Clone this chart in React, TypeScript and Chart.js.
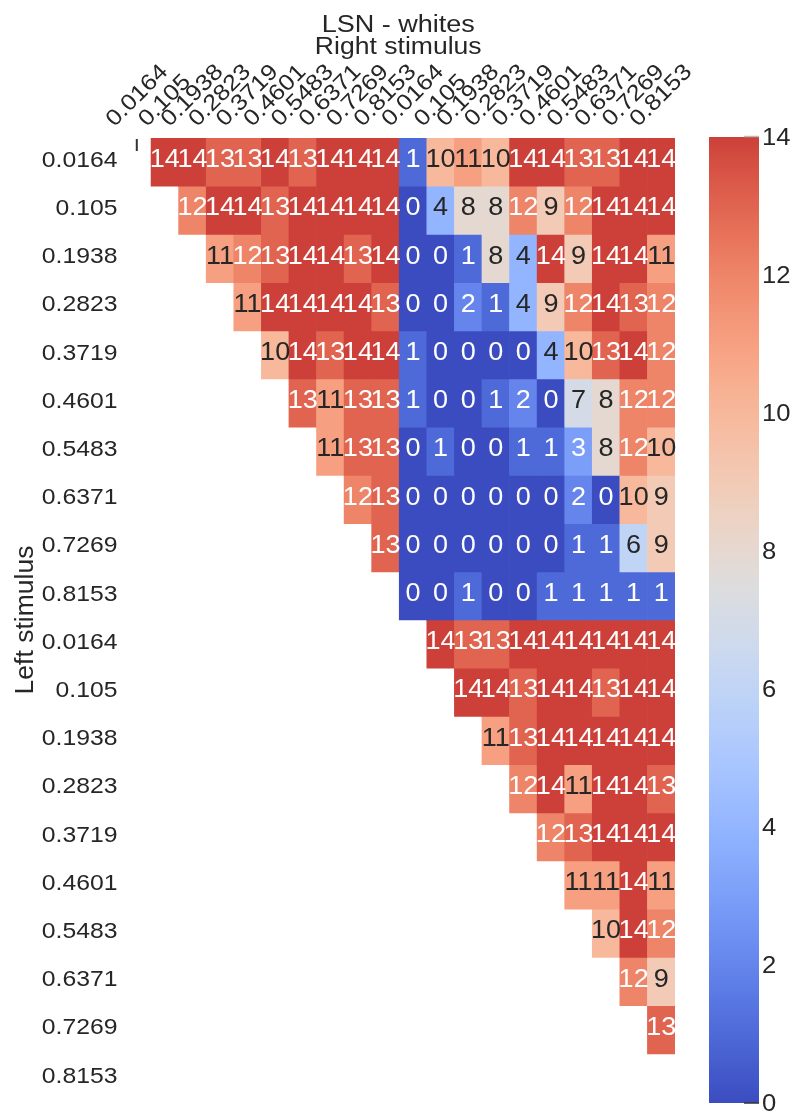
import React, { useEffect, useRef } from "react";
import { Chart, registerables } from "chart.js";

Chart.register(...registerables);

// ---------- data ----------
const stimulusLevels = ["0.0164", "0.105", "0.1938", "0.2823", "0.3719", "0.4601", "0.5483", "0.6371", "0.7269", "0.8153"];
const xTickLabels = [...stimulusLevels, ...stimulusLevels];
const yTickLabels = [...stimulusLevels, ...stimulusLevels];
const colorbarTicks = [0, 2, 4, 6, 8, 10, 12, 14];
const titleText = "LSN - whites";
const xAxisTitle = "Right stimulus";
const yAxisTitle = "Left stimulus";
const colorMin = 0;
const colorMax = 14;
const colorCenter = 7.5;

const N = null;
const row0 = [N, 14, 14, 13, 13, 14, 13, 14, 14, 14, 1, 10, 11, 10, 14, 14, 13, 13, 14, 14];
const row1 = [N, N, 12, 14, 14, 13, 14, 14, 14, 14, 0, 4, 8, 8, 12, 9, 12, 14, 14, 14];
const row2 = [N, N, N, 11, 12, 13, 14, 14, 13, 14, 0, 0, 1, 8, 4, 14, 9, 14, 14, 11];
const row3 = [N, N, N, N, 11, 14, 14, 14, 14, 13, 0, 0, 2, 1, 4, 9, 12, 14, 13, 12];
const row4 = [N, N, N, N, N, 10, 14, 13, 14, 14, 1, 0, 0, 0, 0, 4, 10, 13, 14, 12];
const row5 = [N, N, N, N, N, N, 13, 11, 13, 13, 1, 0, 0, 1, 2, 0, 7, 8, 12, 12];
const row6 = [N, N, N, N, N, N, N, 11, 13, 13, 0, 1, 0, 0, 1, 1, 3, 8, 12, 10];
const row7 = [N, N, N, N, N, N, N, N, 12, 13, 0, 0, 0, 0, 0, 0, 2, 0, 10, 9];
const row8 = [N, N, N, N, N, N, N, N, N, 13, 0, 0, 0, 0, 0, 0, 1, 1, 6, 9];
const row9 = [N, N, N, N, N, N, N, N, N, N, 0, 0, 1, 0, 0, 1, 1, 1, 1, 1];
const row10 = [N, N, N, N, N, N, N, N, N, N, N, 14, 13, 13, 14, 14, 14, 14, 14, 14];
const row11 = [N, N, N, N, N, N, N, N, N, N, N, N, 14, 14, 13, 14, 14, 13, 14, 14];
const row12 = [N, N, N, N, N, N, N, N, N, N, N, N, N, 11, 13, 14, 14, 14, 14, 14];
const row13 = [N, N, N, N, N, N, N, N, N, N, N, N, N, N, 12, 14, 11, 14, 14, 13];
const row14 = [N, N, N, N, N, N, N, N, N, N, N, N, N, N, N, 12, 13, 14, 14, 14];
const row15 = [N, N, N, N, N, N, N, N, N, N, N, N, N, N, N, N, 11, 11, 14, 11];
const row16 = [N, N, N, N, N, N, N, N, N, N, N, N, N, N, N, N, N, 10, 14, 12];
const row17 = [N, N, N, N, N, N, N, N, N, N, N, N, N, N, N, N, N, N, 12, 9];
const row18 = [N, N, N, N, N, N, N, N, N, N, N, N, N, N, N, N, N, N, N, 13];
const row19 = [N, N, N, N, N, N, N, N, N, N, N, N, N, N, N, N, N, N, N, N];
const rows: (number | null)[][] = [
  row0, row1, row2, row3, row4, row5, row6, row7, row8, row9,
  row10, row11, row12, row13, row14, row15, row16, row17, row18, row19,
];

// ---------- colormap (matplotlib coolwarm) ----------
const COOLWARM: number[][] = [
  [59, 76, 192], [68, 90, 204], [77, 104, 215], [87, 117, 225], [98, 130, 234], [108, 142, 241],
  [119, 154, 247], [130, 165, 251], [141, 176, 254], [152, 185, 255], [163, 194, 255], [174, 201, 253],
  [184, 208, 249], [194, 213, 244], [204, 217, 238], [213, 219, 230], [221, 221, 221], [229, 216, 209],
  [236, 211, 197], [241, 204, 184], [245, 196, 172], [247, 187, 159], [247, 177, 147], [247, 166, 134],
  [244, 154, 123], [241, 141, 111], [236, 127, 99], [229, 112, 88], [222, 96, 77], [213, 80, 66],
  [203, 62, 56], [192, 40, 47], [180, 4, 38],
];
function coolwarmRGB(t: number): number[] {
  const tt = Math.max(0, Math.min(1, t)) * (COOLWARM.length - 1);
  const i = Math.min(COOLWARM.length - 2, Math.floor(tt));
  const f = tt - i;
  const a = COOLWARM[i], b = COOLWARM[i + 1];
  return [0, 1, 2].map((k) => a[k] + (b[k] - a[k]) * f);
}
const vRange = Math.max(colorMax - colorCenter, colorCenter - colorMin);
function normValue(v: number) {
  return (v - (colorCenter - vRange)) / (2 * vRange);
}
function rgbStr(c: number[]) {
  return `rgb(${Math.round(c[0])},${Math.round(c[1])},${Math.round(c[2])})`;
}
function valueColor(v: number) {
  return rgbStr(coolwarmRGB(normValue(v)));
}
function textColorFor(v: number) {
  const c = coolwarmRGB(normValue(v)).map((x) => {
    const s = x / 255;
    return s <= 0.03928 ? s / 12.92 : Math.pow((s + 0.055) / 1.055, 2.4);
  });
  const lum = 0.2126 * c[0] + 0.7152 * c[1] + 0.0722 * c[2];
  return lum > 0.408 ? "#262626" : "#ffffff";
}

// ---------- text helper ----------
const FONT = '"Liberation Sans", Arial, Helvetica, sans-serif';
const DARK = "#262626";
function drawText(
  ctx: CanvasRenderingContext2D,
  text: string,
  x: number,
  y: number,
  size: number,
  opts: { sx?: number; rot?: number; align?: CanvasTextAlign; baseline?: CanvasTextBaseline; color?: string } = {}
) {
  ctx.save();
  ctx.translate(x, y);
  if (opts.rot) ctx.rotate(opts.rot);
  ctx.scale(opts.sx ?? 1.1, 1);
  ctx.font = `${size}px ${FONT}`;
  ctx.fillStyle = opts.color ?? DARK;
  ctx.textAlign = opts.align ?? "center";
  ctx.textBaseline = opts.baseline ?? "middle";
  ctx.fillText(text, 0, 0);
  ctx.restore();
}

const heatmapLabels = {
  id: "heatmapLabels",
  afterDraw(chart: any) {
    const ctx: CanvasRenderingContext2D = chart.ctx;
    const xs = chart.scales.x;
    const ys = chart.scales.y;
    const area = chart.chartArea;
    // cell annotations
    rows.forEach((row, i) => {
      row.forEach((v, j) => {
        if (v === null) return;
        drawText(ctx, String(v), xs.getPixelForValue(j), ys.getPixelForValue(i + 0.5) - 2, 26, {
          sx: 1.04,
          color: textColorFor(v),
        });
      });
    });
    // small mark at the first (masked) cell
    ctx.save();
    ctx.strokeStyle = "#333333";
    ctx.lineWidth = 2;
    ctx.beginPath();
    const mx = xs.getPixelForValue(0) - 0.5;
    ctx.moveTo(mx, ys.getPixelForValue(0) + 1);
    ctx.lineTo(mx, ys.getPixelForValue(0.27));
    ctx.stroke();
    ctx.restore();
    // y tick labels
    yTickLabels.forEach((lab, i) => {
      drawText(ctx, lab, area.left - 6, ys.getPixelForValue(i + 0.5) - 1.5, 22.5, { sx: 1.1, align: "right" });
    });
    // x tick labels, rotated 45deg, centred on column, bbox bottom fixed
    ctx.save();
    ctx.font = `22.5px ${FONT}`;
    const widths = xTickLabels.map((l) => ctx.measureText(l).width * 1.12);
    ctx.restore();
    xTickLabels.forEach((lab, j) => {
      const w = widths[j];
      const half = ((w + 22.5) * Math.SQRT1_2) / 2;
      const cy = area.top - 7 - half;
      drawText(ctx, lab, xs.getPixelForValue(j), cy, 22.5, { sx: 1.12, rot: -Math.PI / 4 });
    });
    // titles
    const cx = (area.left + area.right) / 2;
    drawText(ctx, titleText, cx - 1, 31.5, 23.5, { sx: 1.15, baseline: "alphabetic" });
    drawText(ctx, xAxisTitle, cx - 1, 53.5, 23.5, { sx: 1.13, baseline: "alphabetic" });
    // y axis title
    drawText(ctx, yAxisTitle, 33, (area.top + area.bottom) / 2, 26.5, {
      sx: 1.0,
      rot: -Math.PI / 2,
      baseline: "alphabetic",
    });
  },
};

const colorbarLabels = {
  id: "colorbarLabels",
  afterDraw(chart: any) {
    const ctx: CanvasRenderingContext2D = chart.ctx;
    const ys = chart.scales.y;
    const area = chart.chartArea;
    colorbarTicks.forEach((t) => {
      drawText(ctx, String(t), area.right + 3, ys.getPixelForValue(t) + 1.5, 23.5, { sx: 1.09, align: "left" });
    });
    ctx.save();
    ctx.lineWidth = 1.5;
    ctx.strokeStyle = "#bbbbbb";
    ctx.beginPath();
    ctx.moveTo(area.right - 15, ys.getPixelForValue(colorMax) - 0.5);
    ctx.lineTo(area.right, ys.getPixelForValue(colorMax) - 0.5);
    ctx.stroke();
    ctx.strokeStyle = "#333333";
    ctx.beginPath();
    ctx.moveTo(area.right - 15, ys.getPixelForValue(colorMin));
    ctx.lineTo(area.right, ys.getPixelForValue(colorMin));
    ctx.stroke();
    ctx.restore();
  },
};

export default function App() {
  const mainRef = useRef<HTMLCanvasElement>(null);
  const cbRef = useRef<HTMLCanvasElement>(null);

  useEffect(() => {
    document.body.style.margin = "0";
    const datasets = rows.map((row, i) => ({
      label: yTickLabels[i],
      data: row.map((v) => (v === null ? null : [i, i + 1])) as any,
      backgroundColor: row.map((v) => (v === null ? "rgba(0,0,0,0)" : valueColor(v))),
      borderWidth: 0,
      grouped: false,
      barPercentage: 1,
      categoryPercentage: 1,
    }));
    const main = new Chart(mainRef.current!, {
      type: "bar",
      data: { labels: xTickLabels, datasets },
      options: {
        animation: false,
        responsive: false,
        maintainAspectRatio: false,
        layout: { padding: { left: 123.5, right: 119, top: 138, bottom: 13 } },
        plugins: { legend: { display: false }, tooltip: { enabled: false }, title: { display: false } },
        scales: {
          x: { type: "category", display: false, offset: true, grid: { display: false } },
          y: { type: "linear", display: false, min: 0, max: 20, reverse: true, grid: { display: false } },
        },
      },
      plugins: [heatmapLabels],
    });

    const cb = new Chart(cbRef.current!, {
      type: "bar",
      data: {
        labels: ["colorbar"],
        datasets: [
          {
            data: [[colorMin, colorMax]] as any,
            borderWidth: 0,
            barPercentage: 1,
            categoryPercentage: 1,
            inflateAmount: 0,
            backgroundColor: (c: any) => {
              const area = c.chart.chartArea;
              if (!area) return "#888";
              const g = c.chart.ctx.createLinearGradient(0, area.bottom, 0, area.top);
              const steps = 64;
              for (let k = 0; k <= steps; k++) {
                const v = colorMin + ((colorMax - colorMin) * k) / steps;
                g.addColorStop(k / steps, valueColor(v));
              }
              return g;
            },
          },
        ],
      },
      options: {
        animation: false,
        responsive: false,
        maintainAspectRatio: false,
        layout: { padding: { left: 709, right: 35, top: 137, bottom: 12 } },
        plugins: { legend: { display: false }, tooltip: { enabled: false } },
        scales: {
          x: { display: false },
          y: { type: "linear", display: false, min: colorMin, max: colorMax },
        },
      },
      plugins: [colorbarLabels],
    });

    return () => {
      main.destroy();
      cb.destroy();
    };
  }, []);

  return (
    <div style={{ position: "absolute", left: 0, top: 0, width: 794, height: 1115, background: "#ffffff" }}>
      <canvas ref={mainRef} width={794} height={1115} style={{ position: "absolute", left: 0, top: 0 }} />
      <canvas ref={cbRef} width={794} height={1115} style={{ position: "absolute", left: 0, top: 0 }} />
    </div>
  );
}
